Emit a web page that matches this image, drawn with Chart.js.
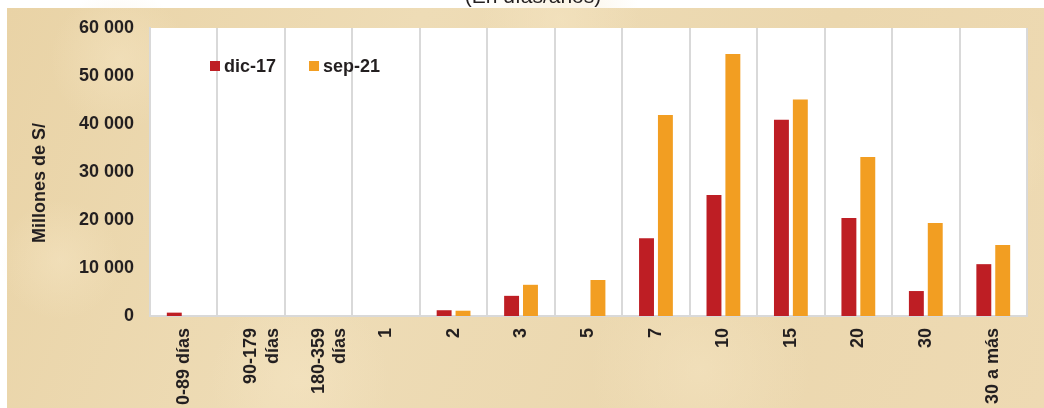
<!DOCTYPE html>
<html>
<head>
<meta charset="utf-8">
<script src="https://cdn.jsdelivr.net/npm/chart.js@4.4.1/dist/chart.umd.min.js"></script>
<style>
  html, body { margin: 0; padding: 0; background: #fff; }
  #wrap { width: 1044px; height: 408px; position: relative; }
</style>
</head>
<body>
<div id="wrap"><canvas id="plazos-chart"></canvas></div>
<script>
const categories = ['0-89 días', ['90-179', 'días'], ['180-359', 'días'], '1', '2', '3', '5', '7', '10', '15', '20', '30', '30 a más'];
const dic17 = [700, 0, 0, 0, 1200, 4200, 0, 16200, 25200, 40900, 20400, 5200, 10800];
const sep21 = [0, 0, 0, 0, 1100, 6500, 7500, 41900, 54600, 45100, 33100, 19400, 14800];
const seriesNames = ['dic-17', 'sep-21'];
const yTitle = 'Millones de S/';
const yMax = 60000;
const yStep = 10000;

const FONT = "'Liberation Sans', Arial, sans-serif";
const INK = '#231f20';
const GRID = '#d9d9d9';

const canvasChart = document.querySelector('#plazos-chart');

// fondo tipo pergamino + área blanca del gráfico
const paperBg = {
  id: 'paperBg',
  beforeDraw(chart) {
    const ctx = chart.ctx;
    const a = chart.chartArea;
    ctx.save();
    ctx.fillStyle = '#fff';
    ctx.fillRect(0, 0, chart.width, chart.height);
    const g = ctx.createLinearGradient(7, 8, chart.width, chart.height);
    g.addColorStop(0, '#e9d3a6');
    g.addColorStop(0.35, '#eedcb6');
    g.addColorStop(0.7, '#ebd7ae');
    g.addColorStop(1, '#eedab3');
    ctx.fillStyle = g;
    ctx.fillRect(7, 8, chart.width - 7, chart.height - 8);
    const spots = [[120, 60, 70], [560, 20, 80], [700, 370, 110], [980, 150, 70], [300, 380, 90], [60, 260, 60]];
    spots.forEach(([x, y, r]) => {
      const rg = ctx.createRadialGradient(x, y, 0, x, y, r);
      rg.addColorStop(0, 'rgba(246,230,196,0.5)');
      rg.addColorStop(1, 'rgba(246,230,196,0)');
      ctx.fillStyle = rg;
      ctx.fillRect(x - r, y - r, r * 2, r * 2);
    });
    ctx.fillStyle = '#fff';
    ctx.fillRect(a.left, a.top, a.right - a.left, a.bottom - a.top);
    ctx.restore();
  },
  afterDraw(chart) {
    const ctx = chart.ctx;
    const a = chart.chartArea;
    ctx.save();
    ctx.fillStyle = INK;
    // título recortado arriba
    ctx.font = '21px ' + FONT;
    ctx.textAlign = 'center';
    ctx.textBaseline = 'alphabetic';
    ctx.fillText('(En días/años)', 533, 3);
    // título del eje y
    ctx.save();
    ctx.translate(40, 183);
    ctx.rotate(-Math.PI / 2);
    ctx.font = 'bold 18px ' + FONT;
    ctx.textBaseline = 'middle';
    ctx.fillText(yTitle, 0, 0);
    ctx.restore();
    // leyenda dentro del gráfico
    ctx.font = 'bold 18px ' + FONT;
    ctx.textAlign = 'left';
    ctx.textBaseline = 'middle';
    let x = a.left + 60;
    const y = a.top + 38;
    chart.data.datasets.forEach((ds) => {
      ctx.fillStyle = ds.backgroundColor;
      ctx.fillRect(x, y - 5, 10, 10);
      ctx.fillStyle = INK;
      ctx.fillText(ds.label, x + 14, y + 1);
      x += 14 + ctx.measureText(ds.label).width + 33;
    });
    ctx.restore();
  }
};

let config = {
  type: 'bar',
  data: {
    labels: categories,
    datasets: [
      {
        label: seriesNames[0],
        data: dic17,
        backgroundColor: '#be1e24',
        categoryPercentage: 0.56,
        barPercentage: 0.79,
      },
      {
        label: seriesNames[1],
        data: sep21,
        backgroundColor: '#f29e22',
        categoryPercentage: 0.56,
        barPercentage: 0.79,
      },
    ],
  },
  options: {
    responsive: false,
    animation: false,
    layout: {
      padding: { left: 0, top: 28, right: 17, bottom: 0 },
    },
    plugins: {
      legend: { display: false },
      tooltip: { enabled: false },
    },
    scales: {
      x: {
        grid: { color: GRID, lineWidth: 2, drawTicks: false, offset: true },
        border: { display: true, color: GRID, width: 2 },
        ticks: {
          color: INK,
          font: { family: FONT, size: 18, weight: 'bold' },
          minRotation: 90,
          maxRotation: 90,
          autoSkip: false,
          padding: 12,
        },
        afterFit: (s) => { s.height = 92; },
      },
      y: {
        min: 0,
        max: yMax,
        grid: { display: false, drawTicks: false },
        border: { display: true, color: GRID, width: 2 },
        ticks: {
          stepSize: yStep,
          color: INK,
          padding: 16,
          font: { family: FONT, size: 18, weight: 'bold' },
          callback: (v) => String(v).replace(/\B(?=(\d{3})+(?!\d))/g, ' '),
        },
        afterFit: (s) => { s.width = 150; },
      },
    },
  },
  plugins: [paperBg],
};

canvasChart.width = 1044;
canvasChart.height = 408;
let chart = new Chart(canvasChart, config);
</script>
</body>
</html>
